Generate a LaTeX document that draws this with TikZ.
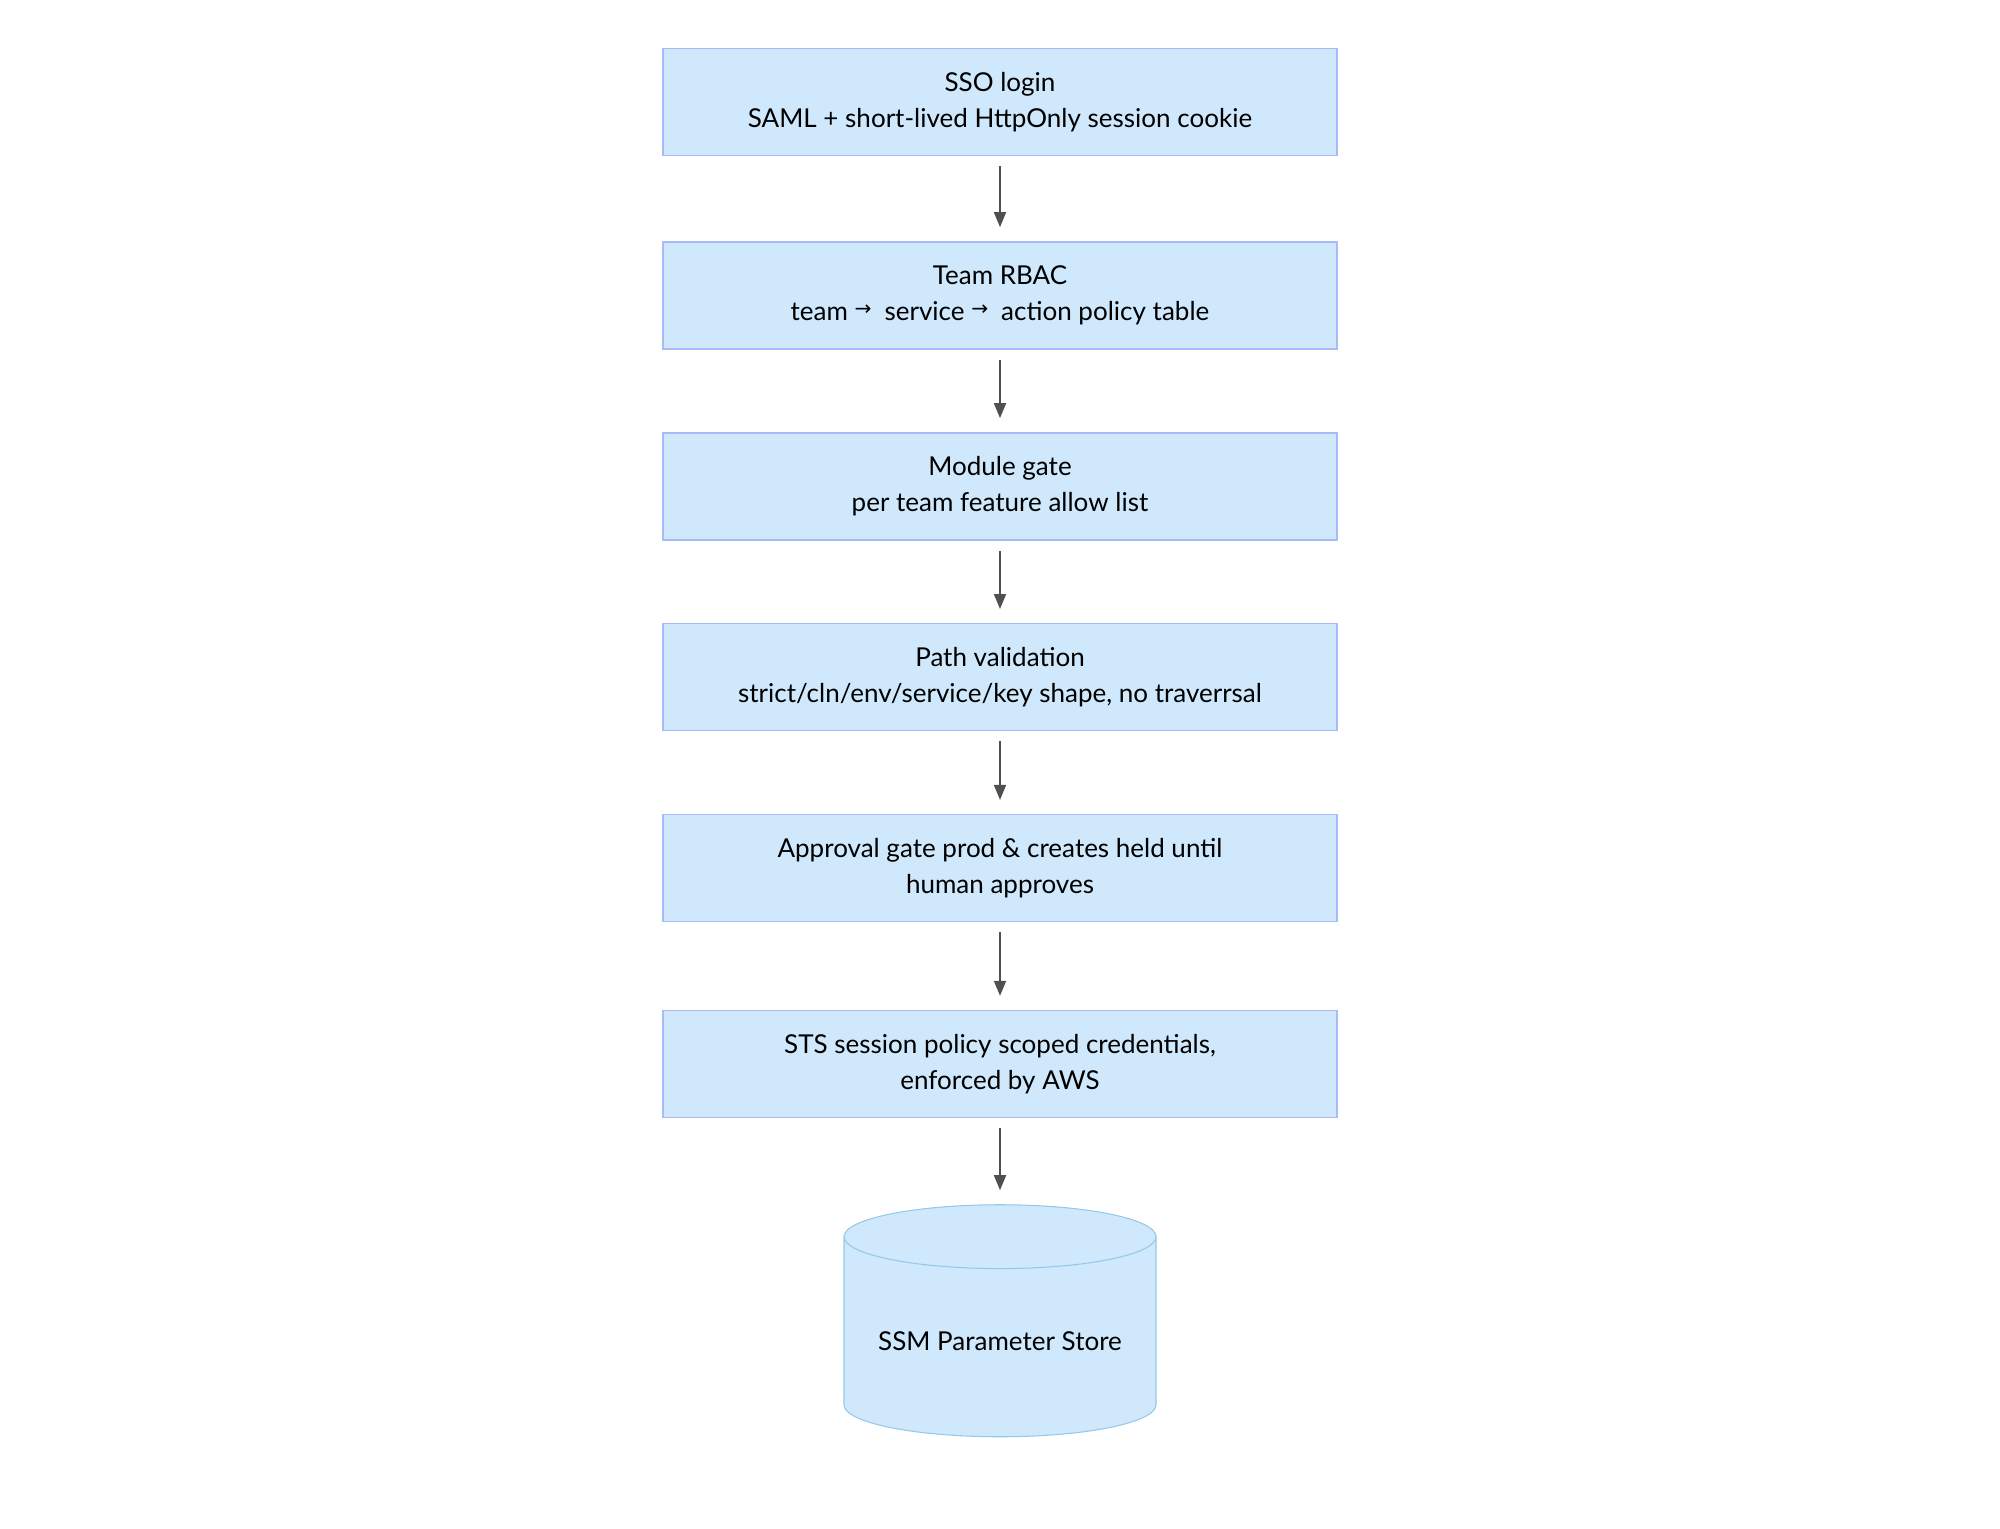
\documentclass[tikz,border=0pt]{standalone}
\usepackage{fontspec}
\setmainfont{Lato}
\newfontfamily\symfont{DejaVu Sans}
\usetikzlibrary{positioning,arrows.meta,shapes.geometric}
\definecolor{stepfill}{RGB}{207,232,252}
\definecolor{stepdraw}{RGB}{170,186,248}
\definecolor{storedraw}{RGB}{150,200,232}
\definecolor{flowcolor}{RGB}{80,80,80}
\newcommand{\toarr}{\raisebox{0.35ex}{\symfont\fontsize{11.5}{11.5}\selectfont →}\enspace}
\tikzset{
    check/.style={rectangle, draw=stepdraw, fill=stepfill, line width=0.8pt,
        minimum width=13.48cm, minimum height=2.14cm, align=center,
        font=\fontsize{14.8}{20.5}\selectfont},
    store/.style={cylinder, shape border rotate=90, aspect=0.25, draw=storedraw,
        fill=stepfill, line width=0.6pt, minimum width=6.24cm, minimum height=4.64cm,
        align=center, font=\fontsize{14.8}{20.5}\selectfont},
    flow/.style={-{Triangle[length=0.3cm,width=0.24cm]}, line width=1pt, flowcolor,
        shorten <=0.2cm, shorten >=0.28cm}
}

\begin{document}
\begin{tikzpicture}[node distance=1.65cm]
    \useasboundingbox (0,0) rectangle (40,30.56);

    % Access checks, top to bottom
    \node[check] (sso) at (20,28.52) {SSO login\\SAML + short-lived HttpOnly session cookie};
    \node[check, below=1.7cm of sso] (rbac) {Team RBAC\\team \toarr service \toarr action policy table};
    \node[check, below=of rbac] (module) {Module gate\\per team feature allow list};
    \node[check, below=of module] (path) {Path validation\\strict/cln/env/service/key shape, no traverrsal};
    \node[check, below=of path] (approval) {Approval gate prod \& creates held until\\human approves};
    \node[check, below=1.75cm of approval] (sts) {STS session policy scoped credentials,\\enforced by AWS};

    % Backing store
    \node[store, below=1.72cm of sts] (ssm) {SSM Parameter Store};

    % Flow arrows
    \draw[flow] (sso) -- (rbac);
    \draw[flow] (rbac) -- (module);
    \draw[flow] (module) -- (path);
    \draw[flow] (path) -- (approval);
    \draw[flow] (approval) -- (sts);
    \draw[flow] (sts) -- (ssm);
\end{tikzpicture}
\end{document}
